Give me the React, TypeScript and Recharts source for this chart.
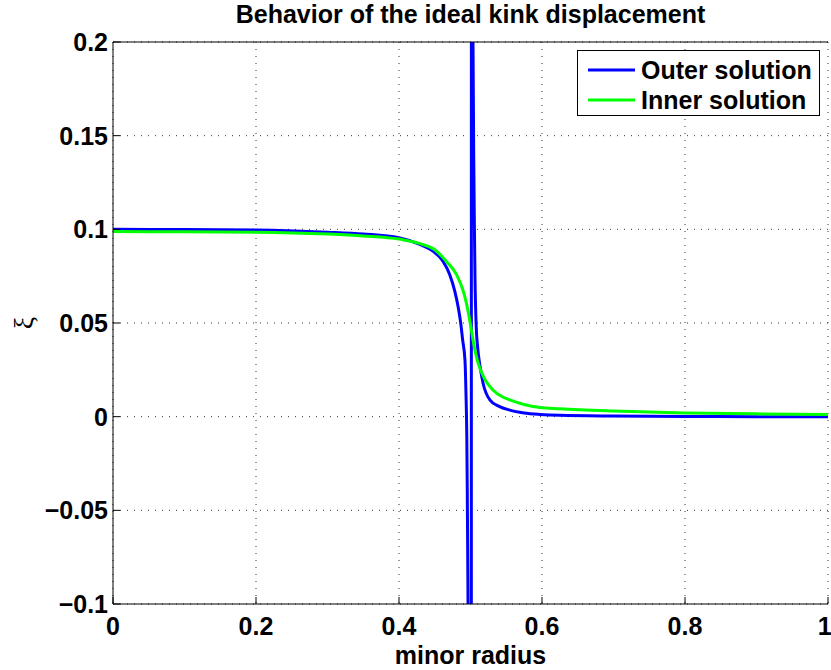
import React from 'react';
import { LineChart, Line, XAxis, YAxis, CartesianGrid, Legend } from 'recharts';

// ---- data ----
const outerRadius = [
  0, 0.1, 0.2, 0.3, 0.35, 0.4, 0.43, 0.448, 0.4615, 0.471, 0.478, 0.483, 0.4863, 0.489,
  0.4923, 0.4937, 0.4948, 0.4955, 0.4962, 0.4968, 0.4975, 0.5008,
  0.5016, 0.5025, 0.5035, 0.5045, 0.5055, 0.5063, 0.508, 0.51, 0.5133, 0.5175, 0.527,
  0.54, 0.555, 0.575, 0.597, 0.625, 0.7, 0.8, 0.9, 1.0,
];
const outerXi = [
  0.1, 0.0999, 0.0997, 0.0985, 0.0975, 0.0955, 0.0918, 0.0882, 0.083, 0.0758, 0.067, 0.058, 0.05, 0.041,
  0.03, 0.012, -0.01, -0.04, -0.08, -0.12, -0.25, -3,
  3, 0.3, 0.2, 0.14, 0.1, 0.074, 0.048, 0.037, 0.027, 0.018, 0.009,
  0.0055, 0.0035, 0.002, 0.0012, 0.0007, 0.0003, 0.0001, 0.0, 0.0,
];
const innerRadius = [
  0, 0.1, 0.2, 0.3, 0.35, 0.4, 0.4476, 0.466, 0.4805, 0.49, 0.494, 0.497, 0.5, 0.503,
  0.5065, 0.51, 0.513, 0.52, 0.531, 0.545, 0.555, 0.575, 0.597, 0.625, 0.7, 0.8, 0.9, 1.0,
];
const innerXi = [
  0.0988, 0.0987, 0.0985, 0.0975, 0.0965, 0.0948, 0.0897, 0.083, 0.0758, 0.0669, 0.061, 0.0555, 0.049, 0.042,
  0.035, 0.0295, 0.026, 0.02, 0.0144, 0.0105, 0.009, 0.0065, 0.0049, 0.0042, 0.003, 0.002, 0.0015, 0.0012,
];
const xTicks = [0, 0.2, 0.4, 0.6, 0.8, 1];
const xTickLabels = ['0', '0.2', '0.4', '0.6', '0.8', '1'];
const yTicks = [-0.1, -0.05, 0, 0.05, 0.1, 0.15, 0.2];
const yTickLabels = ['\u22120.1', '\u22120.05', '0', '0.05', '0.1', '0.15', '0.2'];
const seriesNames = ['Outer solution', 'Inner solution'];
const seriesColors = ['#0000ff', '#00ff00'];
const titleText = 'Behavior of the ideal kink displacement';
const xLabelText = 'minor radius';
const yLabelText = '\u03be';

const outerData = outerRadius.map((r, i) => ({ r, xi: outerXi[i] }));
const innerData = innerRadius.map((r, i) => ({ r, xi: innerXi[i] }));

const FONT = '"Liberation Sans", Arial, Helvetica, sans-serif';
const tickStyle = { fill: '#000', fontSize: 25, fontWeight: 'bold', fontFamily: FONT } as any;

const fmtX = (v: number) => {
  const i = xTicks.findIndex((t) => Math.abs(t - v) < 1e-9);
  return i >= 0 ? xTickLabels[i] : String(v);
};
const fmtY = (v: number) => {
  const i = yTicks.findIndex((t) => Math.abs(t - v) < 1e-9);
  return i >= 0 ? yTickLabels[i] : String(v);
};

const LegendBox = () => (
  <div
    style={{
      border: '1px solid #000',
      background: '#fff',
      width: 241,
      height: 64,
      boxSizing: 'content-box',
      fontFamily: FONT,
      fontWeight: 'bold',
      fontSize: 25,
      color: '#000',
    }}
  >
    {seriesNames.map((name, i) => (
      <div key={name} style={{ height: 30, marginTop: i === 0 ? 4 : 0, display: 'flex', alignItems: 'center' }}>
        <svg width={63} height={30} style={{ display: 'block' }}>
          <line x1={10} x2={57} y1={15} y2={15} stroke={seriesColors[i]} strokeWidth={3} />
        </svg>
        <span style={{ lineHeight: '30px', whiteSpace: 'nowrap' }}>{name}</span>
      </div>
    ))}
  </div>
);

export default function App() {
  return (
    <div style={{ position: 'absolute', left: 0, top: 0, width: 831, height: 670 }}>
      <LineChart width={831} height={670} margin={{ top: 0, right: 3, bottom: 0, left: 0 }}>
        <CartesianGrid stroke="#333" strokeDasharray="1 6" strokeWidth={1} />
        <XAxis
          xAxisId={0}
          type="number"
          dataKey="r"
          domain={[0, 1]}
          ticks={xTicks}
          tickFormatter={fmtX}
          allowDataOverflow
          height={66}
          tickSize={-7}
          tickMargin={20}
          tick={tickStyle}
          axisLine={{ stroke: '#000' }}
          tickLine={{ stroke: '#000' }}
          label={{
            value: xLabelText,
            position: 'insideBottom',
            offset: 6,
            style: { fill: '#000', fontSize: 25, fontWeight: 'bold', fontFamily: FONT },
          }}
        />
        <XAxis
          xAxisId="top"
          orientation="top"
          type="number"
          dataKey="r"
          domain={[0, 1]}
          ticks={xTicks}
          allowDataOverflow
          height={42}
          tickSize={-7}
          tick={false}
          axisLine={{ stroke: '#000' }}
          tickLine={{ stroke: '#000' }}
          label={(props: any) => {
            const vb = props.viewBox || { x: 113, y: 0, width: 715, height: 42 };
            return (
              <text
                x={vb.x + vb.width / 2}
                y={vb.y + vb.height - 19}
                textAnchor="middle"
                style={{ fill: '#000', fontSize: 25, fontWeight: 'bold', fontFamily: FONT }}
              >
                {titleText}
              </text>
            );
          }}
        />
        <YAxis
          yAxisId={0}
          type="number"
          domain={[-0.1, 0.2]}
          ticks={yTicks}
          tickFormatter={fmtY}
          allowDataOverflow
          width={113}
          tickSize={-7}
          tickMargin={12}
          tick={tickStyle}
          axisLine={{ stroke: '#000' }}
          tickLine={{ stroke: '#000' }}
          label={(props: any) => {
            const vb = props.viewBox || { x: 0, y: 42, width: 113, height: 562 };
            const cx = vb.x + 23;
            const cy = vb.y + vb.height / 2;
            return (
              <text
                x={cx}
                y={cy}
                transform={`rotate(-90, ${cx}, ${cy})`}
                textAnchor="middle"
                dominantBaseline="central"
                style={{ fill: '#000', fontSize: 28, fontFamily: '"Liberation Serif", "DejaVu Serif", serif' }}
              >
                {yLabelText}
              </text>
            );
          }}
        />
        <YAxis
          yAxisId="right"
          orientation="right"
          type="number"
          domain={[-0.1, 0.2]}
          ticks={yTicks}
          allowDataOverflow
          width={0}
          tickSize={-7}
          tick={false}
          axisLine={{ stroke: '#000' }}
          tickLine={{ stroke: '#000' }}
        />
        <Legend
          verticalAlign="middle"
          align="center"
          content={() => <LegendBox />}
          wrapperStyle={{ position: 'absolute', left: 577, top: 50, width: 243 }}
        />
        <Line
          data={outerData}
          dataKey="xi"
          name={seriesNames[0]}
          xAxisId={0}
          yAxisId={0}
          type="monotone"
          stroke={seriesColors[0]}
          strokeWidth={3}
          dot={false}
          activeDot={false}
          isAnimationActive={false}
        />
        <Line
          data={innerData}
          dataKey="xi"
          name={seriesNames[1]}
          xAxisId={0}
          yAxisId={0}
          type="monotone"
          stroke={seriesColors[1]}
          strokeWidth={3}
          dot={false}
          activeDot={false}
          isAnimationActive={false}
        />
      </LineChart>
    </div>
  );
}
